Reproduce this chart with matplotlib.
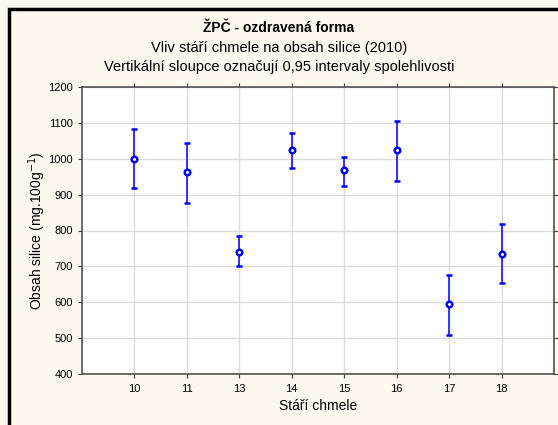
import matplotlib
matplotlib.use("Agg")
import matplotlib.pyplot as plt
from matplotlib.patches import Rectangle

plt.rcParams['font.family'] = ['Liberation Sans', 'DejaVu Sans']

# data
ages = ['10', '11', '13', '14', '15', '16', '17', '18']
means = [1000, 962, 740, 1024, 968, 1024, 595, 734]
upper = [1084, 1044, 784, 1071, 1006, 1106, 676, 819]
lower = [919, 878, 700, 974, 924, 939, 509, 654]

err_low = [m - l for m, l in zip(means, lower)]
err_high = [u - m for m, u in zip(means, upper)]
pos = list(range(len(ages)))

W, H = 558, 425
fig = plt.figure(figsize=(W / 100, H / 100), dpi=100)
fig.patch.set_facecolor('#fef9ee')

# plot area in pixels: left 82, right 554, top 87, bottom 374
ax = fig.add_axes([82 / W, 1 - 374 / H, (554 - 82) / W, (374 - 87) / H])
ax.set_facecolor('white')

ax.errorbar(pos, means, yerr=[err_low, err_high], fmt='o', color='#0000ff',
            ecolor='#0000ff', elinewidth=1.1, capsize=2.3, capthick=1.1,
            markersize=4, markerfacecolor='white', markeredgecolor='#0000ff',
            markeredgewidth=1.8, zorder=3)

ax.set_xlim(-1, 8)
ax.set_ylim(400, 1200)
ax.set_xticks(pos)
ax.set_xticklabels(ages)
ax.set_yticks(range(400, 1201, 100))

ax.grid(True, color='#dcdcdc', linewidth=1.0)
ax.set_axisbelow(True)

ax.tick_params(axis='both', labelsize=8, length=3, color='#404040', width=0.8,
               top=True, right=True, direction='out')
ax.tick_params(axis='x', pad=4)
for s in ax.spines.values():
    s.set_color('#505050')
    s.set_linewidth(1.2)

ax.set_ylabel('Obsah silice (mg.100g$^{-1}$)', fontsize=10, labelpad=0)
ax.set_xlabel('Stáří chmele', fontsize=10, labelpad=4)

fig.text(0.5, 1 - 28 / H, 'ŽPČ - ozdravená forma', ha='center', va='center',
         fontsize=10, fontweight='bold')
fig.text(0.5, 1 - 48 / H, 'Vliv stáří chmele na obsah silice (2010)', ha='center',
         va='center', fontsize=10.5)
fig.text(0.5, 1 - 67 / H, 'Vertikální sloupce označují 0,95 intervaly spolehlivosti',
         ha='center', va='center', fontsize=10.5)

# outer frame, cut off at right and bottom
fig.patches.append(Rectangle((9 / W, -0.1), 1.1, 1 - 9 / H + 0.1,
                             transform=fig.transFigure, fill=False,
                             edgecolor='black', linewidth=2.5, zorder=10))

fig.savefig('out.png', dpi=100, facecolor=fig.get_facecolor())
